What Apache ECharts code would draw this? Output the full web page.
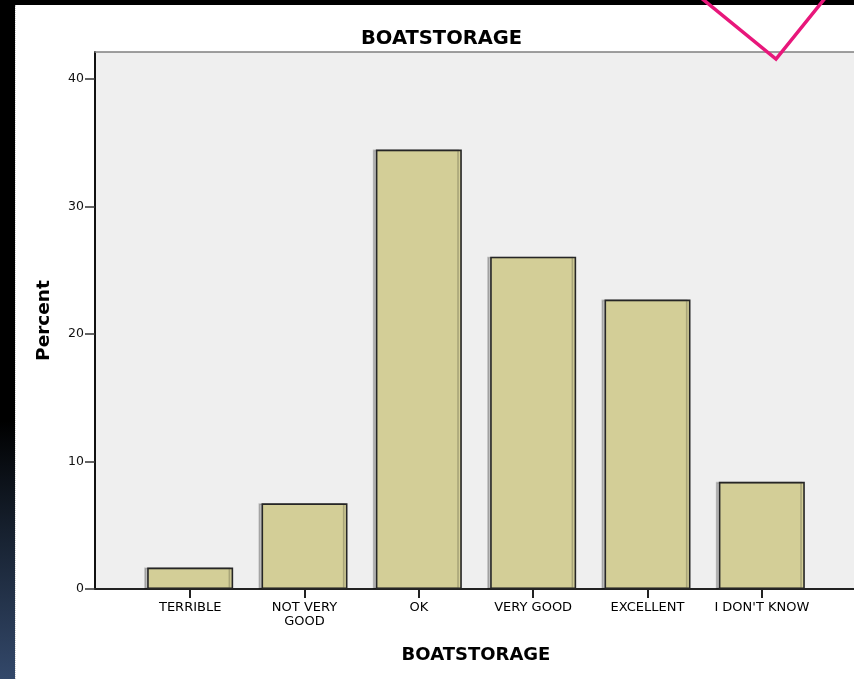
<!DOCTYPE html>
<html>
<head>
<meta charset="utf-8">
<script src="https://cdn.jsdelivr.net/npm/echarts@6/dist/echarts.min.js"></script>
<style>
  html, body { margin: 0; padding: 0; width: 854px; height: 679px; overflow: hidden; background: #000; }
  #strip { position: absolute; left: 0; top: 0; width: 15px; height: 679px;
           background: linear-gradient(to bottom, #000 0%, #000 62%, #16202e 78%, #33486a 100%); }
  #paper { position: absolute; left: 15px; top: 5px; width: 839px; height: 674px; background: #fff;
           border-left: 1px dotted #ccc; box-sizing: border-box; }
  #chart { position: absolute; left: 0; top: 0; width: 854px; height: 679px; }
</style>
</head>
<body>
<div id="strip"></div>
<div id="paper"></div>
<div id="chart"></div>
<script>
const categories = ['TERRIBLE', 'NOT VERY\nGOOD', 'OK', 'VERY GOOD', 'EXCELLENT', "I DON'T KNOW"];
const percentValues = [1.68, 6.72, 34.45, 26.05, 22.69, 8.40];
const yTicks = [0, 10, 20, 30, 40];
const yMax = 42.1;

const chart = echarts.init(document.getElementById('chart'), null, { renderer: 'canvas' });
const boldFam = '"DejaVu Sans", Arial, sans-serif';
const labFam = '"DejaVu Sans", Arial, sans-serif';

chart.setOption({
  backgroundColor: 'transparent',
  animation: false,
  title: {
    text: 'BOATSTORAGE',
    left: 356, top: 24,
    textStyle: { fontFamily: boldFam, fontSize: 19.5, fontWeight: 'bold', color: '#000' }
  },
  grid: [
    { left: 95, top: 52, right: -20, bottom: 90, show: true, backgroundColor: '#efefef', borderWidth: 0, containLabel: false },
    { left: 133, top: 52, width: 686, bottom: 90, containLabel: false }
  ],
  xAxis: [
    { gridIndex: 0, type: 'value', min: 0, max: 1, position: 'bottom',
      axisLine: { show: true, onZero: false, lineStyle: { color: '#222', width: 2 } },
      axisTick: { show: false }, axisLabel: { show: false }, splitLine: { show: false } },
    { gridIndex: 0, type: 'value', min: 0, max: 1, position: 'top',
      axisLine: { show: true, onZero: false, lineStyle: { color: '#808080', width: 1.5 } },
      axisTick: { show: false }, axisLabel: { show: false }, splitLine: { show: false } },
    { gridIndex: 1, type: 'category', data: categories, position: 'bottom',
      axisLine: { show: false },
      axisTick: { show: true, alignWithLabel: true, length: 9, inside: false, lineStyle: { color: '#222', width: 2 } },
      axisLabel: { margin: 12, fontFamily: labFam, fontSize: 13, color: '#000', lineHeight: 14, interval: 0 },
      name: 'BOATSTORAGE', nameLocation: 'middle', nameGap: 57,
      nameTextStyle: { fontFamily: boldFam, fontSize: 18, fontWeight: 'bold', color: '#000' },
      splitLine: { show: false } }
  ],
  yAxis: [
    { gridIndex: 0, type: 'value', min: 0, max: yMax,
      axisLine: { show: true, onZero: false, lineStyle: { color: '#111', width: 2 } },
      axisTick: { show: true, length: 10, customValues: yTicks, lineStyle: { color: '#333', width: 1.5 } },
      axisLabel: { margin: 11, customValues: yTicks, fontFamily: labFam, fontSize: 12.5, color: '#111' },
      splitLine: { show: false },
      name: 'Percent', nameLocation: 'middle', nameGap: 41,
      nameTextStyle: { fontFamily: boldFam, fontSize: 18.5, fontWeight: 'bold', color: '#000' } },
    { gridIndex: 1, type: 'value', min: 0, max: yMax, show: false }
  ],
  series: [{
    type: 'bar',
    xAxisIndex: 2, yAxisIndex: 1,
    data: percentValues,
    barWidth: 86,
    itemStyle: { color: '#d3ce97', borderColor: '#262626', borderWidth: 1.6,
                 shadowColor: 'rgba(0,0,0,0.2)', shadowOffsetX: -3, shadowOffsetY: 0, shadowBlur: 0 },
    z: 3
  }],
  graphic: [{
    type: 'polyline', z: 100,
    shape: { points: [[700, -3], [776, 59], [826, -3]] },
    style: { stroke: '#e8177b', lineWidth: 3.5, fill: null }
  }]
});
</script>
</body>
</html>
